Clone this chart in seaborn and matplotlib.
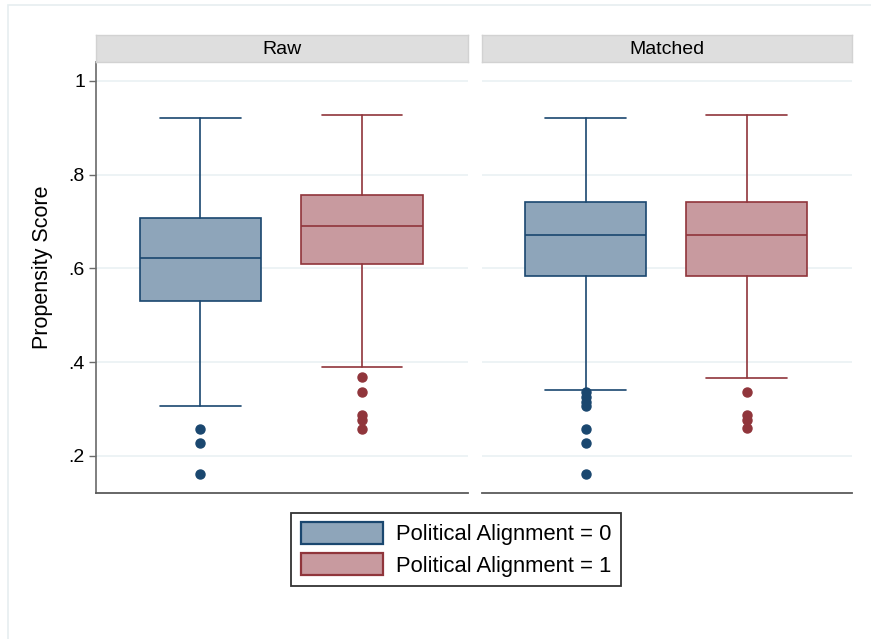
import matplotlib
matplotlib.use("Agg")
import matplotlib.pyplot as plt
from matplotlib.patches import Patch, Rectangle
import seaborn as sns

# Box-plot summaries of the propensity score, by sample and political alignment
panels = ["Raw", "Matched"]
groups = ["Political Alignment = 0", "Political Alignment = 1"]

raw_whislo = [0.307, 0.390]
raw_q1 = [0.531, 0.610]
raw_med = [0.622, 0.691]
raw_q3 = [0.708, 0.757]
raw_whishi = [0.921, 0.927]
raw_fliers = [[0.258, 0.228, 0.162],
              [0.369, 0.336, 0.287, 0.277, 0.258]]

matched_whislo = [0.341, 0.367]
matched_q1 = [0.584, 0.584]
matched_med = [0.671, 0.671]
matched_q3 = [0.742, 0.742]
matched_whishi = [0.921, 0.927]
matched_fliers = [[0.336, 0.326, 0.315, 0.306, 0.257, 0.228, 0.162],
                  [0.336, 0.287, 0.277, 0.259]]

yticks = [0.2, 0.4, 0.6, 0.8, 1.0]
ytick_labels = [".2", ".4", ".6", ".8", "1"]

fills = ["#8ea5ba", "#c89a9f"]
edges = ["#1a476f", "#90353b"]

sns.set_theme(style="white")
plt.rcParams["font.family"] = ["Liberation Sans", "DejaVu Sans"]
plt.rcParams["text.color"] = "black"
plt.rcParams["axes.labelcolor"] = "black"
plt.rcParams["ytick.color"] = "black"

W, H = 871, 639
fig = plt.figure(figsize=(W / 100, H / 100), dpi=100)
fig.patch.set_facecolor("white")

# faint outer frame of the graph region (left and top edges)
fig.add_artist(Rectangle((8 / W, -0.05), 1.1, 1.05 - 5 / H,
                         transform=fig.transFigure, fill=False,
                         edgecolor="#e6eef0", lw=1.2))


def px_axes(x0, x1, y0, y1):
    return fig.add_axes([x0 / W, 1 - y1 / H, (x1 - x0) / W, (y1 - y0) / H])


def stats_for(whislo, q1, med, q3, whishi, fliers):
    return [dict(whislo=whislo[i], q1=q1[i], med=med[i], q3=q3[i],
                 whishi=whishi[i], fliers=fliers[i], label=groups[i])
            for i in range(len(groups))]


panel_stats = [
    stats_for(raw_whislo, raw_q1, raw_med, raw_q3, raw_whishi, raw_fliers),
    stats_for(matched_whislo, matched_q1, matched_med, matched_q3,
              matched_whishi, matched_fliers),
]

panel_x = [(96, 468), (482, 852)]
for p, (title, stats) in enumerate(zip(panels, panel_stats)):
    x0, x1 = panel_x[p]
    ax = px_axes(x0, x1, 62, 493)
    ax.set_facecolor("white")
    ax.set_ylim(0.121, 1.0405)
    ax.set_xlim(-0.644, 1.655)
    for yt in yticks:
        ax.axhline(yt, color="#eaf1f3", lw=1.2, zorder=0)
    for i, st in enumerate(stats):
        ax.bxp([st], positions=[i], widths=0.75, capwidths=[0.5],
               patch_artist=True, showfliers=True,
               boxprops=dict(facecolor=fills[i], edgecolor=edges[i], lw=1.2),
               medianprops=dict(color=edges[i], lw=1.2),
               whiskerprops=dict(color=edges[i], lw=1.2),
               capprops=dict(color=edges[i], lw=1.2),
               flierprops=dict(marker="o", markerfacecolor=edges[i],
                               markeredgecolor=edges[i], markersize=6.5,
                               linestyle="none"))
    ax.set_xticks([])
    for side in ["top", "right"]:
        ax.spines[side].set_visible(False)
    ax.spines["bottom"].set_color("#5a5a5a")
    ax.spines["bottom"].set_linewidth(1.3)
    if p == 0:
        ax.spines["left"].set_color("#6a6a6a")
        ax.spines["left"].set_linewidth(1.2)
        ax.set_yticks(yticks)
        ax.set_yticklabels(ytick_labels, fontsize=14)
        ax.tick_params(axis="y", left=True, length=5, width=1,
                       color="#6a6a6a", labelcolor="black", pad=3)
        ax.set_ylabel("Propensity Score", fontsize=15.5, color="black")
        ax.yaxis.set_label_coords(-0.115, 0.524)
    else:
        ax.spines["left"].set_visible(False)
        ax.set_yticks([])

    # facet header strip
    sax = px_axes(x0, x1, 35, 62)
    sax.set_xticks([])
    sax.set_yticks([])
    sax.set_facecolor("#dedede")
    for s in sax.spines.values():
        s.set_color("#d2d2d2")
        s.set_linewidth(1)
    sax.text(0.5, 0.48, title, ha="center", va="center", fontsize=14,
             transform=sax.transAxes, color="black")

handles = [Patch(facecolor=fills[i], edgecolor=edges[i], lw=1.6,
                 label=groups[i]) for i in range(len(groups))]
leg = fig.legend(handles=handles, loc="upper center",
                 bbox_to_anchor=(456 / W, 1 - 513 / H), ncol=1,
                 fontsize=15.8, frameon=True, fancybox=False,
                 handlelength=3.75, handleheight=1.14, handletextpad=0.6,
                 labelspacing=0.36, borderpad=0.42, borderaxespad=0)
leg.get_frame().set_edgecolor("black")
leg.get_frame().set_linewidth(1.3)
for t in leg.get_texts():
    t.set_color("black")

fig.savefig("out.png", dpi=100, facecolor="white")
